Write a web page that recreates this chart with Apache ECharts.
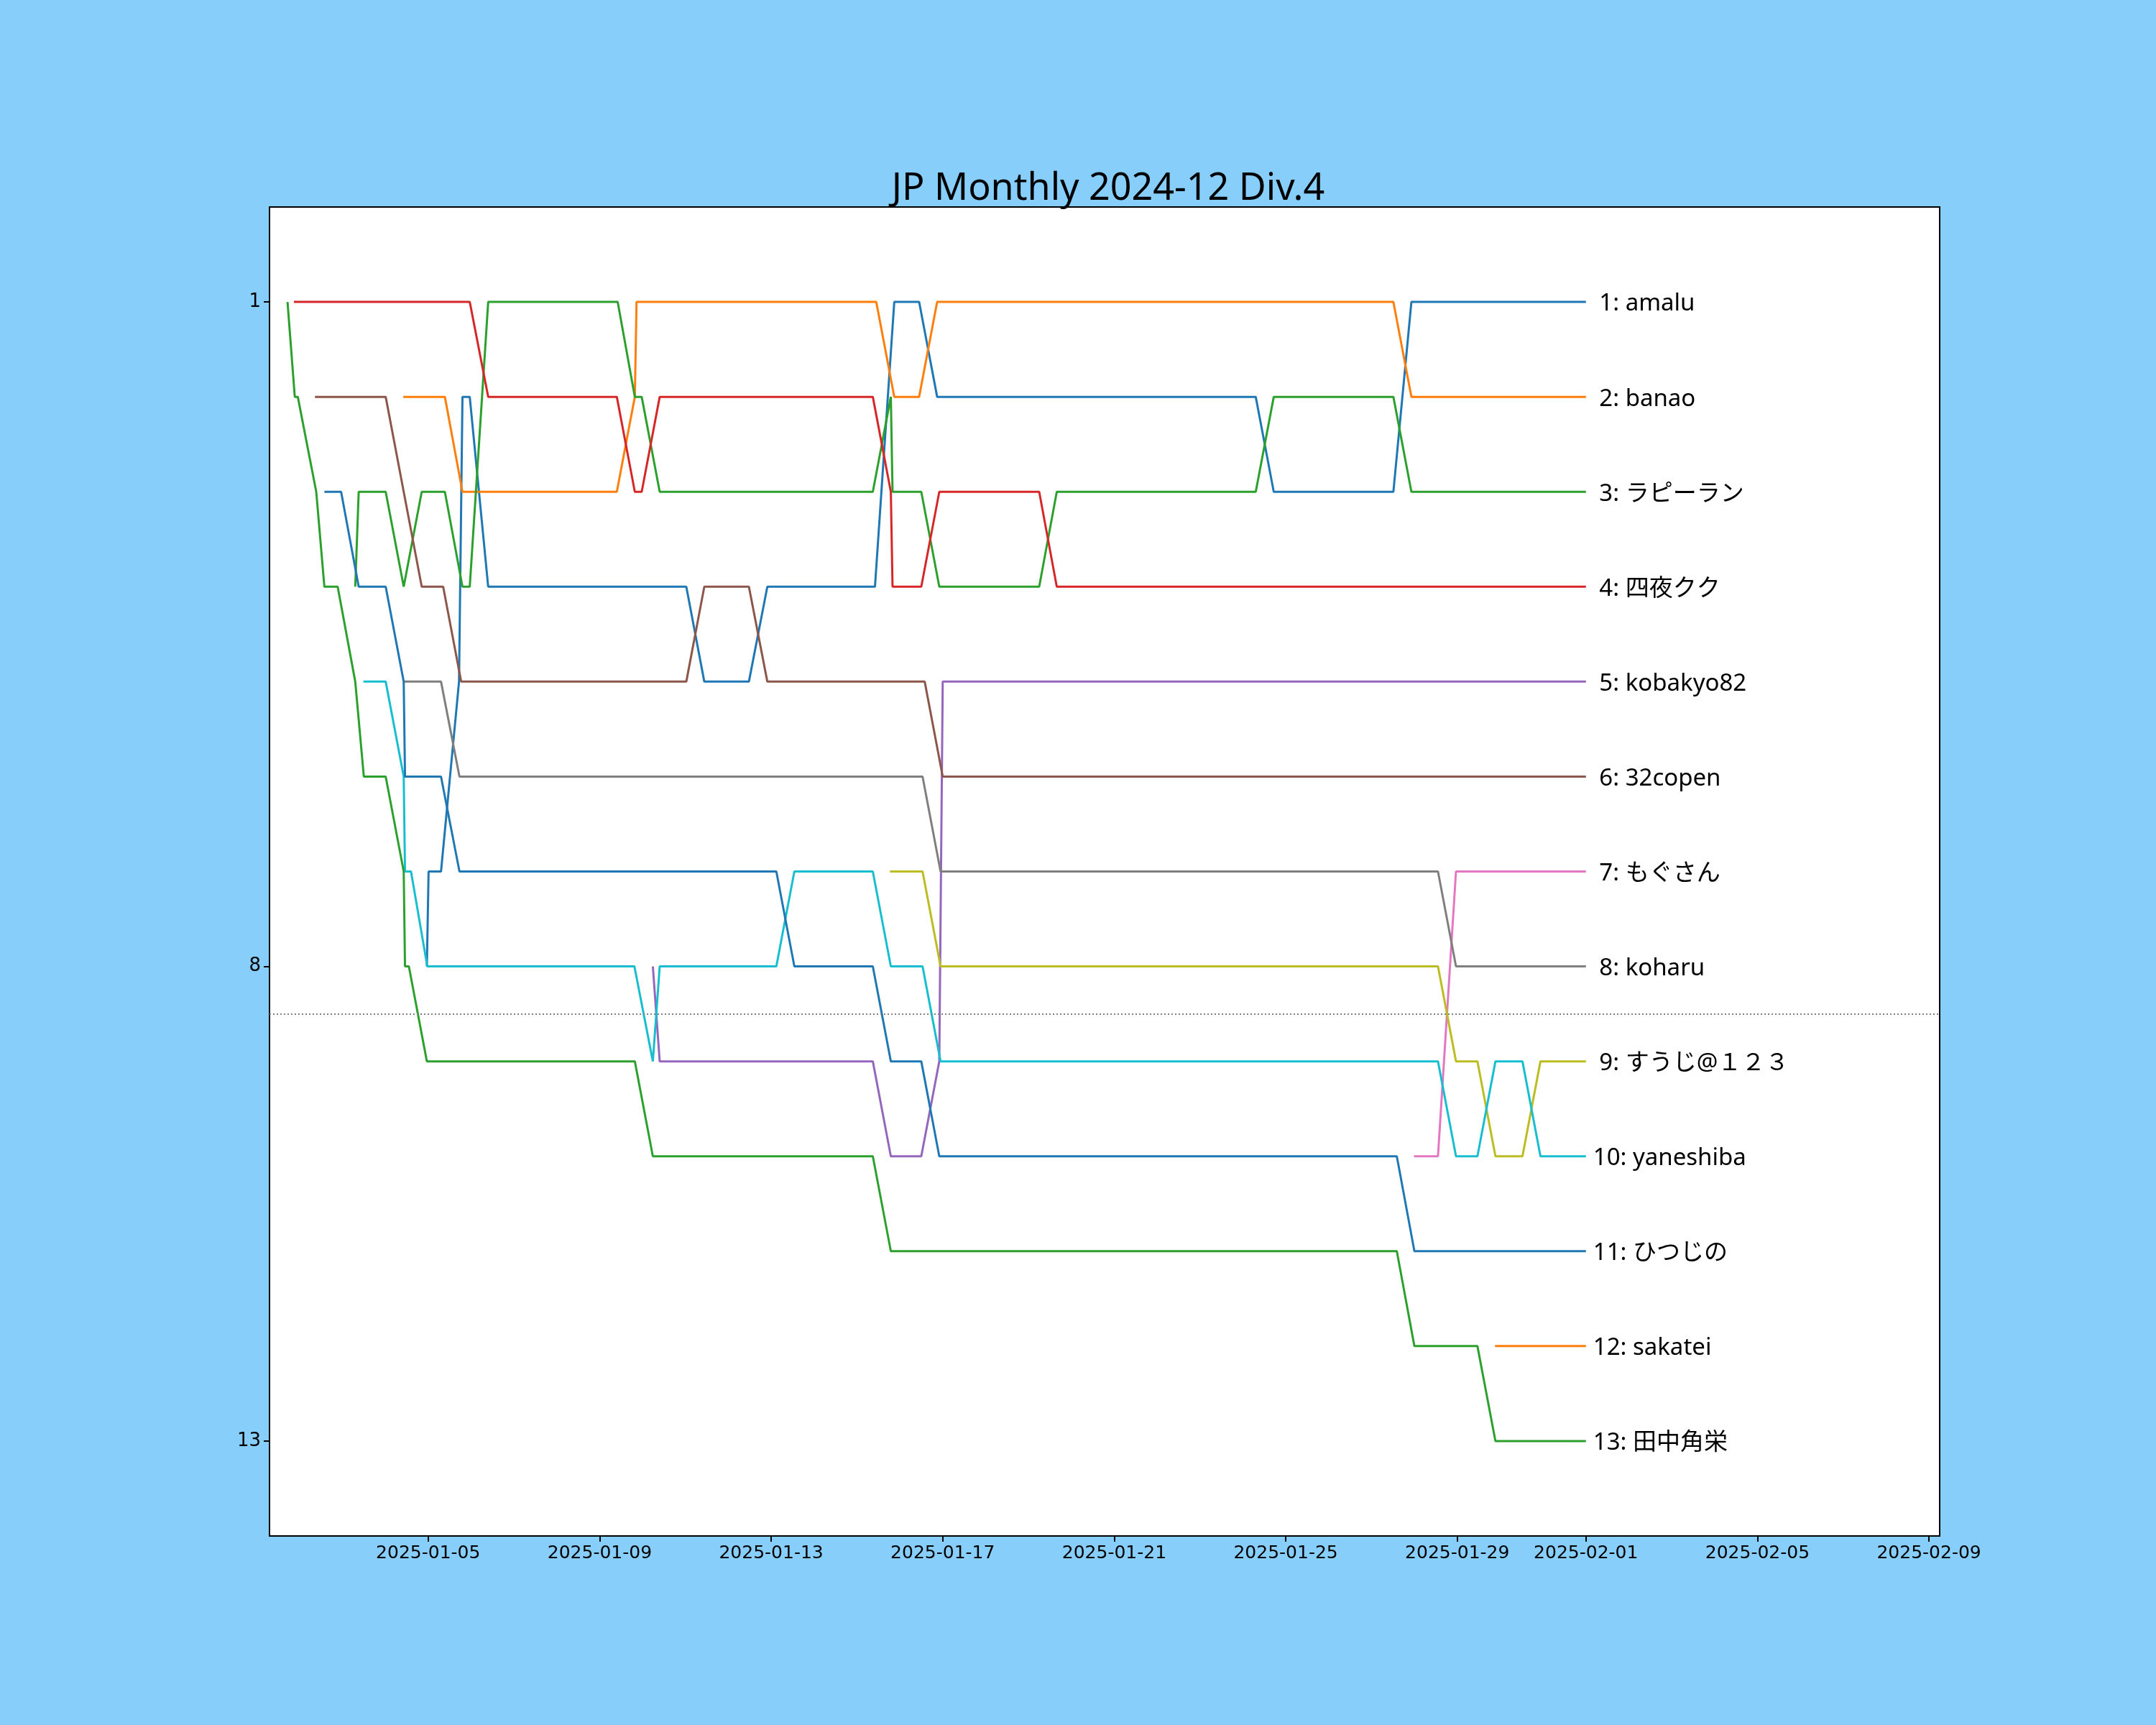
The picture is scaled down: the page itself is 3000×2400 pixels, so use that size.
<!DOCTYPE html>
<html>
<head>
<meta charset="utf-8">
<title>JP Monthly 2024-12 Div.4</title>
<script src="https://cdn.jsdelivr.net/npm/echarts@6/dist/echarts.min.js"></script>
<style>
  html,body{margin:0;padding:0;background:#87cefa;}
  #chart{width:3000px;height:2400px;}
</style>
</head>
<body>
<div id="chart"></div>
<script>
  // 集計開始日 (データの x は この日からの経過日数)
  var startDate='2025-01-01';
  var xStart=0.3, xEnd=39.25;
  var tickLabels=['2025-01-05','2025-01-09','2025-01-13','2025-01-17','2025-01-21','2025-01-25','2025-01-29','2025-02-01','2025-02-05','2025-02-09'];
  var rankTicks=[1,8,13];
  var cutLine=8.5;

  var names=['amalu','banao','ラピーラン','四夜クク','kobakyo82','32copen','もぐさん','koharu','すうじ@１２３','yaneshiba','ひつじの','sakatei','田中角栄'];
  var colors=['#1f77b4','#ff7f0e','#2ca02c','#d62728','#9467bd','#8c564b','#e377c2','#7f7f7f','#bcbd22','#17becf','#1f77b4','#ff7f0e','#2ca02c'];

  // 順位推移 [経過日, 順位]
  var amalu=[[3.97,8],[4.01,7],[4.30,7],[4.72,5],[4.80,2],[4.97,2],[5.40,4],[10.02,4],[10.44,5],[11.48,5],[11.91,4],[14.42,4],[14.87,1],[15.45,1],[15.87,2],[23.30,2],[23.72,3],[26.51,3],[26.93,1],[31,1]];
  var banao=[[3.42,2],[4.39,2],[4.80,3],[8.40,3],[8.82,2],[8.86,1],[14.45,1],[14.87,2],[15.45,2],[15.87,1],[26.51,1],[26.93,2],[31,2]];
  var rapiran=[[2.30,4],[2.38,3],[3.01,3],[3.43,4],[3.85,3],[4.39,3],[4.80,4],[4.97,4],[5.40,1],[8.42,1],[8.82,2],[8.98,2],[9.40,3],[14.37,3],[14.79,2],[14.83,3],[15.50,3],[15.92,4],[18.25,4],[18.66,3],[23.30,3],[23.72,2],[26.51,2],[26.93,3],[31,3]];
  var yoruKuku=[[0.87,1],[4.97,1],[5.40,2],[8.40,2],[8.82,3],[8.98,3],[9.40,2],[14.37,2],[14.79,3],[14.83,4],[15.50,4],[15.92,3],[18.25,3],[18.66,4],[31,4]];
  var kobakyo=[[9.24,8],[9.40,9],[14.37,9],[14.79,10],[15.50,10],[15.92,9],[16.00,5],[31,5]];
  var copen=[[1.36,2],[3.01,2],[3.43,3],[3.85,4],[4.35,4],[4.77,5],[10.02,5],[10.44,4],[11.48,4],[11.91,5],[15.58,5],[16.00,6],[31,6]];
  var mogu=[[26.99,10],[27.55,10],[27.97,7],[31,7]];
  var koharu=[[3.45,5],[4.30,5],[4.73,6],[15.53,6],[15.95,7],[27.55,7],[27.97,8],[31,8]];
  var suuji=[[14.77,7],[15.53,7],[15.95,8],[27.55,8],[27.97,9],[28.47,9],[28.89,10],[29.52,10],[29.94,9],[31,9]];
  var yaneshiba=[[2.49,5],[3.01,5],[3.43,6],[3.46,7],[3.60,7],[3.98,8],[8.81,8],[9.24,9],[9.40,8],[12.12,8],[12.54,7],[14.37,7],[14.79,8],[15.53,8],[15.95,9],[27.55,9],[27.97,10],[28.47,10],[28.89,9],[29.52,9],[29.94,10],[31,10]];
  var hitsujino=[[1.58,3],[1.97,3],[2.38,4],[3.01,4],[3.43,5],[3.46,6],[4.30,6],[4.73,7],[12.12,7],[12.54,8],[14.37,8],[14.79,9],[15.50,9],[15.92,10],[26.59,10],[27.00,11],[31,11]];
  var sakatei=[[28.88,12],[31,12]];
  var tanaka=[[0.72,1],[0.89,2],[0.96,2],[1.39,3],[1.58,4],[1.89,4],[2.30,5],[2.50,6],[3.01,6],[3.43,7],[3.46,8],[3.55,8],[3.97,9],[8.82,9],[9.24,10],[14.37,10],[14.79,11],[26.59,11],[27.00,12],[28.47,12],[28.89,13],[31,13]];

  var allRanks=[amalu,banao,rapiran,yoruKuku,kobakyo,copen,mogu,koharu,suuji,yaneshiba,hitsujino,sakatei,tanaka];

  var DAY=86400000;
  var t0=Date.UTC(2025,0,1);
  // 'YYYY-MM-DD' -> 経過日数
  var toDay=function(s){
    var p=s.split('-');
    return (Date.UTC(+p[0],+p[1]-1,+p[2])-t0)/DAY;
  };
  var pad=function(n){
    return n<10?'0'+n:''+n;
  };
  var tickDays=tickLabels.map(toDay);

  var series=allRanks.map(function(list,i){
    var finalRank=list[list.length-1][1];
    var label=(finalRank<10?' ':'')+finalRank+': '+names[i];
    var s={
      name:names[i],
      type:'line',
      showSymbol:false,
      symbol:'none',
      animation:false,
      color:colors[i],
      lineStyle:{width:3,color:colors[i]},
      data:list,
      endLabel:{
        show:true,
        distance:10,
        offset:[0,3],
        color:'#000',
        fontSize:33,
        fontFamily:'"Noto Sans","Noto Sans CJK JP",sans-serif',
        formatter:function(){return label;}
      }
    };
    if(i==0){
      s.markLine={
        silent:true,
        symbol:'none',
        animation:false,
        label:{show:false},
        lineStyle:{color:'#808080',width:2,type:[2,3]},
        data:[{yAxis:cutLine}]
      };
    }
    return s;
  });

  var chart=echarts.init(document.getElementById('chart'));
  chart.setOption({
    backgroundColor:'#87cefa',
    animation:false,
    title:{
      text:'JP Monthly 2024-12 Div.4',
      left:1537,
      textAlign:'center',
      top:232,
      textStyle:{
        fontSize:52,
        fontWeight:'normal',
        color:'#000',
        fontFamily:'"Noto Sans","Noto Sans CJK JP",sans-serif'
      }
    },
    grid:{
      left:375,
      right:301,
      top:288,
      bottom:263,
      show:true,
      backgroundColor:'#fff',
      borderColor:'#000',
      borderWidth:2
    },
    xAxis:{
      type:'value',
      min:xStart,
      max:xEnd,
      splitLine:{show:false},
      axisLine:{onZero:false,lineStyle:{color:'#000',width:2}},
      axisTick:{
        customValues:tickDays,
        length:8,
        lineStyle:{color:'#000',width:2}
      },
      axisLabel:{
        customValues:tickDays,
        margin:12,
        fontSize:25,
        color:'#000',
        fontFamily:'"DejaVu Sans",sans-serif',
        formatter:function(v){
          var d=new Date(t0+Math.round(v)*DAY);
          return d.getUTCFullYear()+'-'+pad(d.getUTCMonth()+1)+'-'+pad(d.getUTCDate());
        }
      }
    },
    yAxis:{
      type:'value',
      inverse:true,
      min:0,
      max:14,
      splitLine:{show:false},
      axisLine:{show:true,onZero:false,lineStyle:{color:'#000',width:2}},
      axisTick:{
        show:true,
        customValues:rankTicks,
        length:8,
        lineStyle:{color:'#000',width:2}
      },
      axisLabel:{
        customValues:rankTicks,
        margin:12,
        fontSize:26,
        color:'#000',
        fontFamily:'"DejaVu Sans",sans-serif'
      }
    },
    series:series
  });
</script>
</body>
</html>
